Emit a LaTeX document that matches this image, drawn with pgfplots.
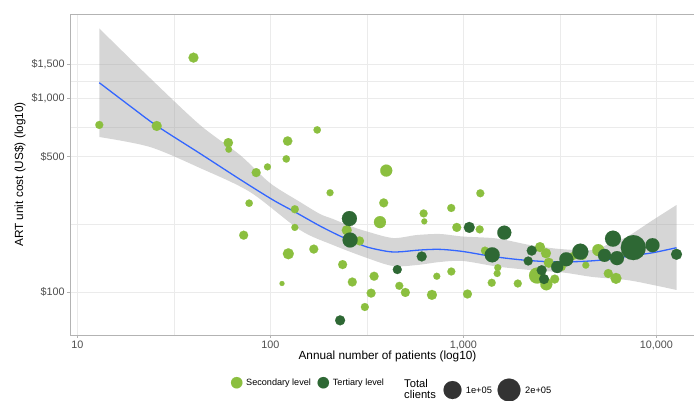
\documentclass[border=0pt]{standalone}
\usepackage{pgfplots}
\pgfplotsset{compat=1.18}
\usepackage{pgfplotstable}
\usepgfplotslibrary{fillbetween}
\usepackage{fontspec}
\setmainfont{Liberation Sans}
\definecolor{lightg}{HTML}{8BBF3F}
\definecolor{darkg}{HTML}{2E6834}
\definecolor{smoothc}{HTML}{3366FF}
\definecolor{gridc}{HTML}{EBEBEB}
\definecolor{borderc}{HTML}{B3B3B3}
\definecolor{tickc}{HTML}{4D4D4D}
\definecolor{keyc}{HTML}{333333}

\pgfplotstableread{
x y r
13 729 4
25.8 720 5
40 1620 5
60.6 590 4.7
60.9 545 3.3
123 602 4.7
175 687 3.7
121 487 3.7
96.7 443 3.5
84.5 414 4.5
204 326 3.5
77.7 288 3.7
134 268 4
134 216 3.5
72.8 197 4.5
124 158 5.5
168 167 4.5
115 111 2.5
237 139 4.5
266 113 4.5
399 424 6
387 289 4.5
623 255 4
628 232 3
370 230 6
249 209 5
290 184 4.5
345 121 4.5
466 108 4
501 99.8 4.5
333 99 4.5
688 97 5
309 84 4
729 121 3.5
1225 324 4
866 272 4
925 216 4.5
1216 211 4
1295 164 4
1509 134 3.5
1498 125 3.5
867 128 4
1051 98 4.5
1404 112 4
1916 111 4
2497 171 5
2682 159 5
2773 142 5
3235 135 4
2410 122 8
2692 110 6
2976 117 4.5
3715 154 4
4146 155 4.5
4312 138 3.5
5006 165 6
5639 125 4.5
6183 118 5.5
}\secondary

\pgfplotstableread{
x y r
230 71.7 5
257 240 7.5
259 186 7.5
609 153 5
455 131 4.5
1074 216 5.5
1631 203 7
1412 156 7.5
2262 164 5
2169 145 4.5
2548 130 5
2619 117 5
3065 135 6
3418 148 7
4040 162 8
5390 155 6.5
5965 189 8
6257 150 7
7601 170 12.5
9557 175 7
12726 157 5.5
}\tertiary

\begin{document}
\begin{tikzpicture}
\begin{axis}[
  at={(70pt,65pt)}, anchor=south west,
  scale only axis, width=635pt, height=321pt,
  xmode=log, ymode=log,
  xmin=9.167, xmax=17880, ymin=60.25, ymax=2719,
  xtick={10,100,1000,10000},
  xticklabels={10,100,{1,000},{10,000}},
  minor xtick={31.62,316.2,3162},
  ytick={100,500,1000,1500},
  yticklabels={\$100,\$500,{\$1,000},{\$1,500}},
  minor ytick={223.6,707.1,1224.7},
  grid=both,
  major grid style={draw=gridc, line width=0.9pt},
  minor grid style={draw=gridc, line width=0.55pt},
  axis line style={draw=borderc, line width=0.9pt},
  tick align=outside, tick pos=left,
  major tick length=2.75pt, minor tick length=0pt,
  tick style={draw=borderc, line width=0.9pt},
  ticklabel style={font=\fontsize{10.8}{12}\selectfont, text=tickc},
  xticklabel style={inner sep=0pt, anchor=north, yshift=-3.5pt},
  yticklabel style={inner sep=0pt, anchor=east, xshift=-2.5pt},
  xlabel={Annual number of patients (log10)},
  ylabel={ART unit cost (US\$) (log10)},
  label style={font=\fontsize{11.8}{13}\selectfont},
  xlabel style={at={(axis description cs:0.5,-0.0654)}, anchor=center},
  ylabel style={at={(axis description cs:-0.0787,0.5)}, anchor=center},
  clip=true,
]
\addplot[scatter, only marks, mark=*,
  scatter/use mapped color={draw=lightg, fill=lightg},
  mark options={line width=0.1pt},
  visualization depends on={\thisrow{r}\as\rad},
  scatter/@pre marker code/.append style={/tikz/mark size=\rad}]
  table[x=x,y=y] {\secondary};
\addplot[scatter, only marks, mark=*,
  scatter/use mapped color={draw=darkg, fill=darkg},
  mark options={line width=0.1pt},
  visualization depends on={\thisrow{r}\as\rad},
  scatter/@pre marker code/.append style={/tikz/mark size=\rad}]
  table[x=x,y=y] {\tertiary};

\addplot[name path=up, draw=none, smooth, tension=0.5, forget plot] coordinates {
(13,2290) (23.81,1272) (43.23,728.6) (69.66,510.2) (99.6,365.9) (142.5,292.2)
(180.9,253.3) (211.3,238.7) (258.8,219.7) (316.9,205.8) (432.3,190.5) (575,197.4)
(756.6,199.8) (996,193.9) (1493,189.4) (2216,175.3) (3170,167.2) (4699,165.2)
(5965,181.6) (7040,192.8) (9613,235.9) (12726,281.8)};
\addplot[name path=lo, draw=none, smooth, tension=0.5, forget plot] coordinates {
(13,631.6) (23.81,561) (43.23,437.2) (78.5,328.9) (142.5,209.5) (211.3,175.3)
(316.9,150.3) (432.3,136.6) (575,138.2) (756.6,143.3) (996,145) (1493,135.8)
(2216,130.3) (3282,126.5) (4699,119.9) (7040,115.7) (9613,109.1) (12726,102.8)};
\addplot[fill=black!40, fill opacity=0.4, draw=none, forget plot] fill between[of=up and lo];

\addplot[smooth, tension=0.5, color=smoothc, line width=1.3pt] coordinates {
(13,1203) (18.75,912.6) (25.88,720) (43.23,519.4) (70.5,379.2) (103.3,299.2)
(134.3,259.4) (180.9,219.7) (229.7,195.1) (258.8,186) (316.9,171.2) (407.2,162.3)
(469.9,161.7) (596.4,165.2) (756.6,166.5) (996,162.3) (1425,152.9) (2039,146.7)
(2813,143.8) (4025,144.1) (5554,147.6) (7574,154.8) (9613,160) (12726,169.8)};
\end{axis}

% legend overlay in image pixel units
\begin{axis}[
  at={(0pt,0pt)}, anchor=south west,
  scale only axis, width=694pt, height=400pt,
  xmin=0, xmax=694, ymin=0, ymax=400, y dir=reverse,
  hide axis, clip=false,
]
\addplot[only marks, mark=*, mark size=5.7pt, color=lightg, mark options={line width=0.1pt, draw=lightg, fill=lightg}] coordinates {(236.7,382.7)};
\addplot[only marks, mark=*, mark size=5.7pt, color=darkg, mark options={line width=0.1pt, draw=darkg, fill=darkg}] coordinates {(323.3,382.7)};
\addplot[only marks, mark=*, mark size=9pt, color=keyc, mark options={line width=0.1pt, draw=keyc, fill=keyc}] coordinates {(452.5,390)};
\addplot[only marks, mark=*, mark size=11.5pt, color=keyc, mark options={line width=0.1pt, draw=keyc, fill=keyc}] coordinates {(509,390)};
\node[anchor=west, inner sep=0pt, font=\fontsize{9.1}{10}\selectfont] at (axis cs:246,382.7) {Secondary level};
\node[anchor=west, inner sep=0pt, font=\fontsize{9.1}{10}\selectfont] at (axis cs:332.7,382.7) {Tertiary level};
\node[anchor=west, inner sep=0pt, font=\fontsize{9.3}{10}\selectfont] at (axis cs:465.7,390) {1e+05};
\node[anchor=west, inner sep=0pt, font=\fontsize{9.3}{10}\selectfont] at (axis cs:525,390) {2e+05};
\node[anchor=west, inner sep=0pt, font=\fontsize{11.2}{12}\selectfont] at (axis cs:404,383.5) {Total};
\node[anchor=west, inner sep=0pt, font=\fontsize{11.2}{12}\selectfont] at (axis cs:404,394.5) {clients};
\end{axis}
\pgfresetboundingbox
\useasboundingbox (0pt,0pt) rectangle (694pt,400pt);
\end{tikzpicture}
\end{document}
